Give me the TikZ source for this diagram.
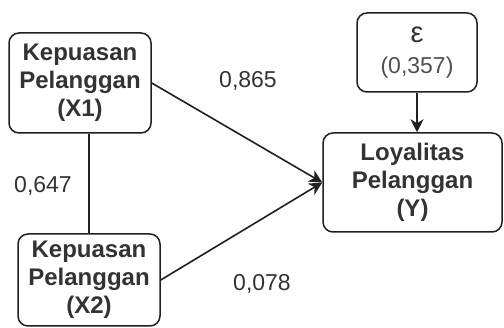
\documentclass[tikz,border=0pt]{standalone}
\usepackage{fontspec}
\setmainfont{Liberation Sans}
\usetikzlibrary{arrows.meta}
\definecolor{ink}{HTML}{1F1F1F}
\definecolor{txt}{HTML}{333333}
\definecolor{txtlight}{HTML}{505050}
\tikzset{
  box/.style={draw=ink, line width=1.5pt, rounded corners=10pt, inner sep=0pt,
    align=center, text=txt, font=\fontsize{24}{28}\selectfont\bfseries},
  lbl/.style={anchor=base, text=txt, font=\fontsize{23}{28}\selectfont, inner sep=0pt},
  conn/.style={draw=ink, line width=1.6pt},
  arr/.style={conn, -{Stealth[length=13pt, width=13pt, inset=4pt]}}
}
\begin{document}
\begin{tikzpicture}[x=1pt, y=-1pt]
\useasboundingbox (0,0) rectangle (504,328);
\node[box, minimum width=142pt, minimum height=100pt] (x1) at (80,83) {Kepuasan\\Pelanggan\\(X1)};
\node[box, minimum width=142pt, minimum height=92pt] (x2) at (89,280) {Kepuasan\\Pelanggan\\(X2)};
\node[box, minimum width=179pt, minimum height=99pt] (y) at (412.5,182.5) {Loyalitas\\Pelanggan\\(Y)};
\node[box, minimum width=120pt, minimum height=79pt, font=\fontsize{23}{31}\selectfont, text=txtlight] (e) at (417,52.5) {{\fontsize{29}{31}\selectfont\color{txt}ε}\\(0,357)};
\draw[conn] (x2.north) -- (x2.north |- x1.south);
\draw[arr] (x1.east) -- (y.west);
\draw[arr] (x2.east) -- (y.west);
\draw[arr] (e.south) -- (e.south |- y.north);
\node[lbl] (l1) at (248,88) {0,865};
\node[lbl] (l2) at (43,193) {0,647};
\node[lbl] (l3) at (262,291) {0,078};
\end{tikzpicture}
\end{document}
